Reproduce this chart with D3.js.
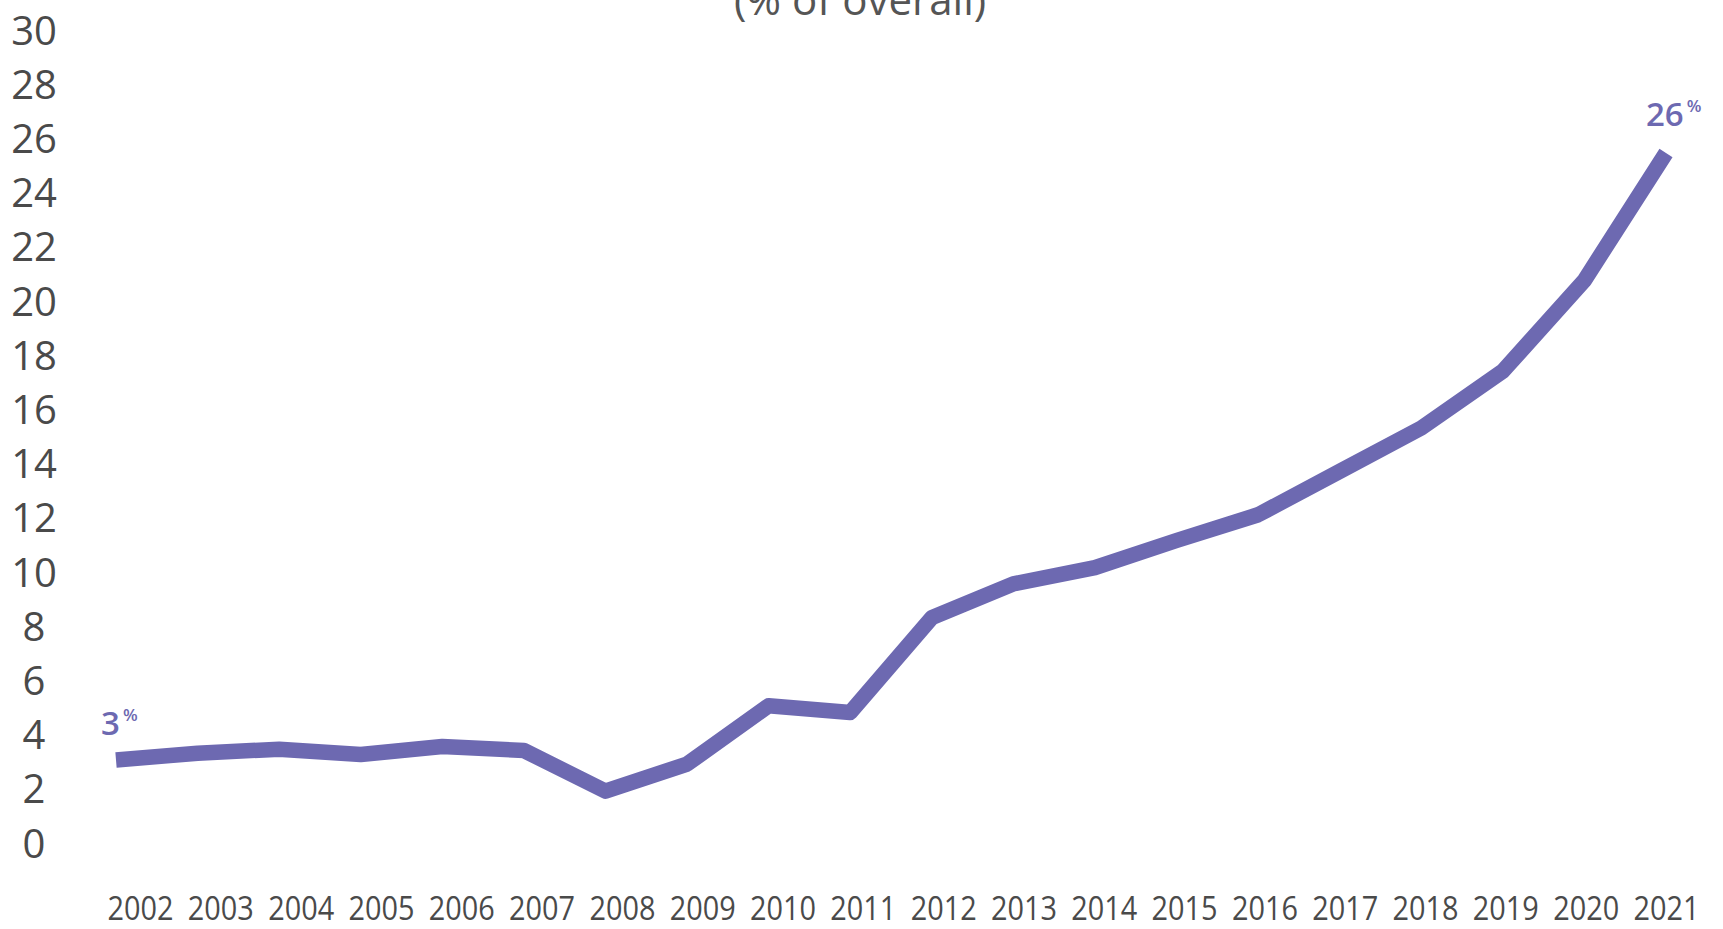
<!DOCTYPE html>
<html>
<head>
<meta charset="utf-8">
<script src="https://cdn.jsdelivr.net/npm/d3@7"></script>
<style>
  html, body { margin: 0; padding: 0; background: #ffffff; }
  svg { display: block; }
</style>
</head>
<body>
<svg id="chart" width="1723" height="929"></svg>
<script>
// ---- data ----
const years = [2002, 2003, 2004, 2005, 2006, 2007, 2008, 2009, 2010, 2011,
               2012, 2013, 2014, 2015, 2016, 2017, 2018, 2019, 2020, 2021];
const shareValues = [3.1, 3.35, 3.5, 3.3, 3.6, 3.45, 1.95, 2.95, 5.1, 4.85,
                     8.35, 9.6, 10.2, 11.2, 12.15, 13.75, 15.35, 17.45, 20.8, 25.5];
const yTicks = [0, 2, 4, 6, 8, 10, 12, 14, 16, 18, 20, 22, 24, 26, 28, 30];
const titleText = "(% of overall)";
const endLabels = [{ year: 2002, text: "3", sup: "%" }, { year: 2021, text: "26", sup: "%" }];

// ---- layout ----
const svg = d3.select("#chart");
const lineColor = "#6d69b1";
const labelColor = "#4a4a4a";

const y = d3.scaleLinear().domain([0, 30]).range([844, 31]);
const xLine = d3.scalePoint().domain(years).range([116, 1666]);
const xLabel = d3.scalePoint().domain(years).range([140, 1666]);

// title (cut off at top edge, as in the source image)
svg.append("text")
  .attr("x", 860).attr("y", 15)
  .attr("text-anchor", "middle")
  .attr("font-family", "Open Sans, Noto Sans, sans-serif")
  .attr("font-size", 42)
  .attr("fill", "#555")
  .text(titleText);

// y axis
const yAxis = d3.axisLeft(y).tickValues(yTicks).tickSize(0).tickPadding(0).tickFormat(d3.format("d"));
const gy = svg.append("g").attr("transform", "translate(34,0)").call(yAxis);
gy.select(".domain").remove();
gy.selectAll("text")
  .attr("x", 0)
  .attr("dy", -2.5)
  .attr("dominant-baseline", "central")
  .attr("text-anchor", "middle")
  .attr("font-family", "Open Sans, Noto Sans, sans-serif")
  .attr("font-size", 40)
  .attr("fill", labelColor);

// x axis
const xAxis = d3.axisBottom(xLabel).tickSize(0).tickPadding(0).tickFormat(d3.format("d"));
const gx = svg.append("g").attr("transform", "translate(0,907)").call(xAxis);
gx.select(".domain").remove();
gx.selectAll("text")
  .attr("y", 0)
  .attr("dy", null)
  .attr("dominant-baseline", "central")
  .attr("text-anchor", "middle")
  .attr("font-family", "Open Sans, Noto Sans, sans-serif")
  .attr("font-size", 32)
  .attr("textLength", 66)
  .attr("lengthAdjust", "spacingAndGlyphs")
  .attr("fill", labelColor);

// line
const data = years.map((yr, i) => ({ year: yr, v: shareValues[i] }));
const line = d3.line().x(d => xLine(d.year)).y(d => y(d.v));
svg.append("path")
  .datum(data)
  .attr("d", line)
  .attr("fill", "none")
  .attr("stroke", lineColor)
  .attr("stroke-width", 15.5)
  .attr("stroke-linejoin", "round")
  .attr("stroke-linecap", "butt");

// end labels
const offsets = { 2002: { dx: -15, dy: -25 }, 2021: { dx: -20, dy: -27 } };
endLabels.forEach(l => {
  const i = years.indexOf(l.year);
  const px = xLine(l.year), py = y(shareValues[i]);
  const t = svg.append("text")
    .attr("x", px + offsets[l.year].dx)
    .attr("y", py + offsets[l.year].dy)
    .attr("font-family", "Open Sans, Noto Sans, sans-serif")
    .attr("font-weight", 600)
    .attr("font-size", 33)
    .attr("fill", lineColor);
  t.append("tspan").text(l.text);
  t.append("tspan").attr("font-size", 17).attr("dy", -14).attr("dx", 3).text(l.sup);
});
</script>
</body>
</html>
